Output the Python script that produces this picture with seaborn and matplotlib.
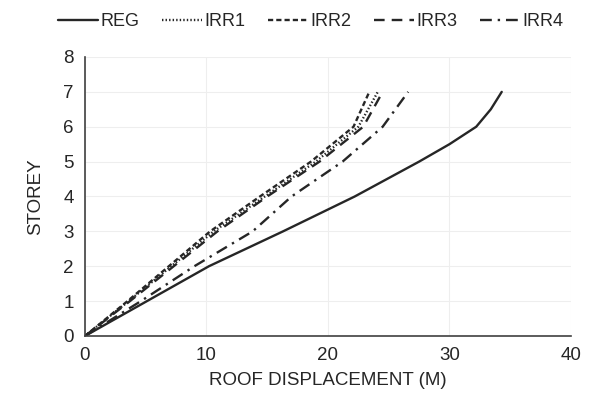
import matplotlib
matplotlib.use("Agg")
import matplotlib.pyplot as plt
import seaborn as sns
import pandas as pd
from matplotlib.ticker import MultipleLocator

reg_storey = [0, 1, 2, 3, 4, 5, 5.5, 6, 6.5, 7]
reg = [0, 5.1, 10.2, 16.3, 22.2, 27.5, 30.0, 32.2, 33.4, 34.3]
storeys = [0, 1, 2, 3, 4, 5, 6, 7]
irr1 = [0, 3.6, 7.1, 10.6, 14.8, 19.0, 22.5, 24.1]
irr2 = [0, 3.5, 6.9, 10.3, 14.4, 18.6, 22.1, 23.4]
irr3 = [0, 3.7, 7.3, 10.9, 15.0, 19.3, 22.9, 24.5]
irr4 = [0, 4.6, 9.0, 13.8, 17.0, 21.2, 24.5, 26.6]
series_names = ["REG", "IRR1", "IRR2", "IRR3", "IRR4"]
x_ticks = [0, 10, 20, 30, 40]
y_ticks = [0, 1, 2, 3, 4, 5, 6, 7, 8]

frames = [pd.DataFrame({"disp": reg, "storey": reg_storey, "series": "REG"})]
for name, vals in zip(series_names[1:], [irr1, irr2, irr3, irr4]):
    frames.append(pd.DataFrame({"disp": vals, "storey": storeys, "series": name}))
df = pd.concat(frames, ignore_index=True)

sns.set_theme(style="white")
plt.rcParams["font.family"] = ["Liberation Sans", "DejaVu Sans"]

fig = plt.figure(figsize=(5.89, 3.98), dpi=100)
ax = fig.add_axes([0.1443, 0.1558, 0.9694 - 0.1443, 0.8568 - 0.1558])

color = "#262626"
styles = {
    "REG": "-",
    "IRR1": (0, (0.6, 0.9)),
    "IRR2": (0, (2.2, 1.3)),
    "IRR3": (0, (4.5, 3.0)),
    "IRR4": (0, (5.0, 2.5, 1.0, 2.5)),
}
for name in series_names:
    sub = df[df["series"] == name]
    sns.lineplot(data=sub, x="disp", y="storey", sort=False, ax=ax,
                 color=color, linewidth=1.7, linestyle=styles[name], label=name,
                 estimator=None)

ax.set_xlim(0, 40)
ax.set_ylim(0, 8)
ax.set_xticks(x_ticks)
ax.set_yticks(y_ticks)
ax.xaxis.set_minor_locator(MultipleLocator(2))
ax.grid(True, which="major", color="#eeeeee", linewidth=0.8)
ax.set_axisbelow(True)
for s in ["top", "right"]:
    ax.spines[s].set_visible(False)
for s in ["left", "bottom"]:
    ax.spines[s].set_color("#404040")
    ax.spines[s].set_linewidth(1.2)
ax.tick_params(axis="both", which="both", direction="in", color="#404040",
               width=1.0, length=5, labelsize=13.5, labelcolor="#262626")
ax.tick_params(axis="x", which="major", pad=8)
ax.tick_params(axis="y", which="major", pad=8)
ax.set_xlabel("ROOF DISPLACEMENT (M)", fontsize=13.5, color="#262626", labelpad=6)
ax.set_ylabel("STOREY", fontsize=13.5, color="#262626", labelpad=14)

leg = ax.legend(loc="lower center", bbox_to_anchor=(0.465, 1.07), ncol=5,
                frameon=False, fontsize=13, handlelength=2.2,
                handletextpad=0.15, columnspacing=1.25, borderaxespad=0)
for t in leg.get_texts():
    t.set_color("#262626")

fig.savefig("out.png", dpi=100)
